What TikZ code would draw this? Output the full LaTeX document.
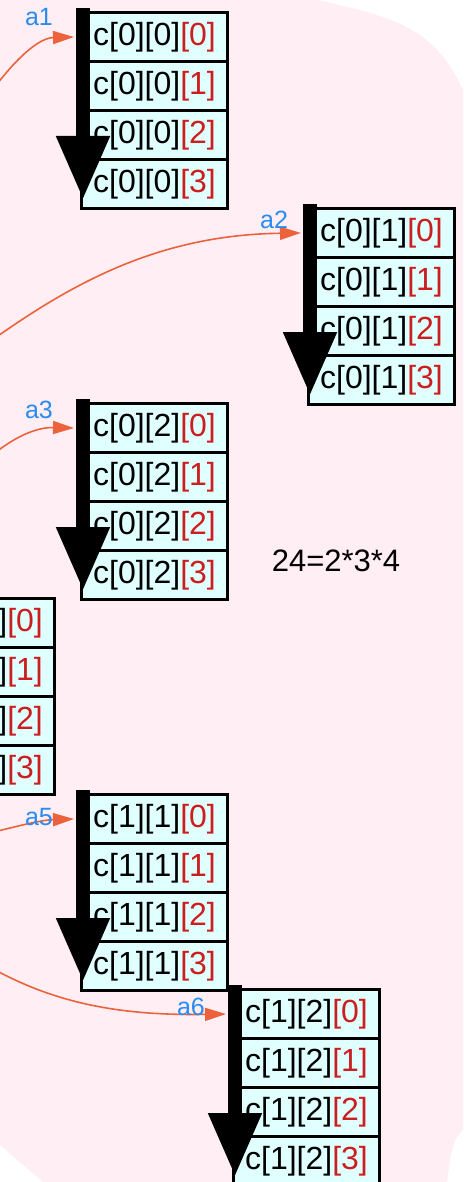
\documentclass[tikz,border=0pt]{standalone}
\usepackage{fontspec}
\setmainfont{Liberation Sans}
\usetikzlibrary{arrows.meta,calc,positioning}
\definecolor{blobpink}{RGB}{255,238,243}
\definecolor{cellcyan}{RGB}{224,255,255}
\definecolor{idxred}{RGB}{204,30,30}
\definecolor{ptrorange}{RGB}{236,98,60}
\definecolor{ptrblue}{RGB}{40,140,240}
\tikzstyle{cell}=[rectangle,draw,line width=3pt,fill=cellcyan,minimum width=146pt,minimum height=49pt,inner sep=0pt,anchor=north west,font=\fontsize{32}{32}\selectfont]
\tikzstyle{walk}=[draw,line width=14pt,-{Triangle[length=64pt,width=50pt]}]
\tikzstyle{ptr}=[draw,ptrorange,line width=1.6pt,-{Triangle[length=21pt,width=13pt]}]
\tikzstyle{ptrlabel}=[text=ptrblue,font=\fontsize{25}{25}\selectfont,inner sep=0pt]
\tikzstyle{note}=[font=\fontsize{31}{31}\selectfont,inner sep=0pt]

\begin{document}
\begin{tikzpicture}[x=1pt,y=1pt]

    \useasboundingbox (0,0) rectangle (463,-1182);
    \clip (0,0) rectangle (463,-1182);

    % cluster background
    \fill[blobpink] (0,0) -- (317,0) .. controls (400,-18) and (435,-30) .. (463,-90)
        -- (463,-1130) .. controls (452,-1138) and (450,-1160) .. (447,-1182)
        -- (43,-1182) -- (0,-1145) -- cycle;

    % arrays c[i][j][0..3]
    \foreach \name/\i/\j/\bx/\by in {b00/0/0/80/11, b01/0/1/307/207, b02/0/2/80/402, b10/1/0/-93/597, b11/1/1/80/793, b12/1/2/232/988} {
        \foreach \k in {0,1,2,3}
            \node[cell] (\name-\k) at (\bx,-\by-49*\k) {\raisebox{-2pt}{c[\i][\j]\textcolor{idxred}{[\k]}}};
        \path[walk] ($(\name-0.north west)+(3,3)$) -- ($(\name-3.south west)+(3,10)$);
    }

    % pointers coming from outside
    \coordinate (p1) at (-20,-108);
    \coordinate (p2) at (-30,-356);
    \coordinate (p3) at (-30,-475);
    \coordinate (p5) at (-30,-838);
    \coordinate (p6) at (-30,-955);

    \path[ptr] (p1) .. controls (5,-70) and (35,-38) .. ([xshift=-6pt]b00-0.west);
    \path[ptr] (p2) .. controls (60,-290) and (150,-235) .. ([xshift=-6pt]b01-0.west);
    \path[ptr] (p3) .. controls (0,-445) and (30,-427) .. ([xshift=-6pt]b02-0.west);
    \path[ptr] (p5) .. controls (10,-828) and (40,-820) .. ([xshift=-6pt]b11-0.west);
    \path[ptr] (p6) .. controls (40,-1000) and (110,-1016) .. ([xshift=-6pt]b12-0.west);

    \node[ptrlabel] (a1) at (39,-17) {a1};
    \node[ptrlabel] (a2) at (274,-220) {a2};
    \node[ptrlabel] (a3) at (39,-410) {a3};
    \node[ptrlabel] (a5) at (39,-817) {a5};
    \node[ptrlabel] (a6) at (191,-1007) {a6};

    \node[note] (dims) at (336,-561) {24=2*3*4};

\end{tikzpicture}
\end{document}
